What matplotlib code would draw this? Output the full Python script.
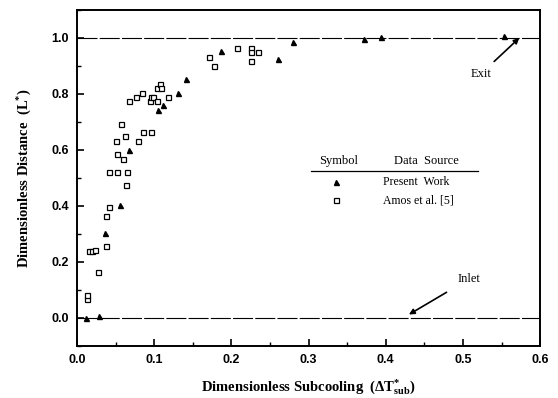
import numpy as np
import matplotlib
matplotlib.use('Agg')
import matplotlib.pyplot as plt

# present work (filled triangles)
present_x = [0.012, 0.029, 0.036, 0.056, 0.068, 0.105, 0.111, 0.131, 0.141,
             0.187, 0.261, 0.280, 0.372, 0.394, 0.553]
present_y = [0.000, 0.007, 0.304, 0.404, 0.601, 0.743, 0.762, 0.805, 0.854,
             0.954, 0.926, 0.985, 0.996, 1.005, 1.008]

# Amos et al. [5] (open squares)
amos_x = [0.013, 0.013, 0.016, 0.020, 0.023, 0.027, 0.037, 0.038, 0.042,
          0.042, 0.052, 0.065, 0.064, 0.052, 0.059, 0.051, 0.062, 0.079,
          0.086, 0.096, 0.057, 0.067, 0.076, 0.084, 0.094, 0.096, 0.098,
          0.104, 0.103, 0.108, 0.109, 0.118, 0.171, 0.177, 0.207, 0.225,
          0.226, 0.235, 0.225]
amos_y = [0.068, 0.082, 0.238, 0.240, 0.242, 0.163, 0.258, 0.364, 0.395,
          0.522, 0.522, 0.522, 0.475, 0.587, 0.568, 0.632, 0.649, 0.632,
          0.663, 0.663, 0.692, 0.773, 0.788, 0.805, 0.773, 0.788, 0.790,
          0.773, 0.821, 0.836, 0.821, 0.790, 0.932, 0.900, 0.964, 0.964,
          0.951, 0.951, 0.918]

xticks = [0.0, 0.1, 0.2, 0.3, 0.4, 0.5, 0.6]
yticks = [0.0, 0.2, 0.4, 0.6, 0.8, 1.0]

serif = 'Liberation Serif'
sans = 'Liberation Sans'
plt.rcParams['mathtext.fontset'] = 'custom'
plt.rcParams['mathtext.rm'] = 'Liberation Serif:bold'
plt.rcParams['mathtext.it'] = 'Liberation Serif:bold'
plt.rcParams['mathtext.bf'] = 'Liberation Serif:bold'

fig = plt.figure(figsize=(5.58, 3.98), dpi=100)
ax = fig.add_axes([0.138, 0.131, 0.830, 0.844])

# inlet / exit reference lines
ax.axhline(1.0, color='black', lw=0.8, ls=(0, (18, 2)))
ax.axhline(0.0, color='black', lw=0.8, ls=(0, (18, 2)))

ax.plot(amos_x, amos_y, ls='none', marker='s', ms=3.6, mfc='white',
        mec='black', mew=0.9)
ax.plot(present_x, present_y, ls='none', marker='^', ms=3.6, color='black')

ax.set_xlim(0, 0.6)
ax.set_ylim(-0.1, 1.1)
ax.set_xticks(xticks)
ax.set_yticks(yticks)
ax.set_xticks(np.arange(0.05, 0.6, 0.1), minor=True)
ax.set_yticks(np.arange(-0.1, 1.1, 0.2), minor=True)
ax.xaxis.set_major_formatter(matplotlib.ticker.FormatStrFormatter('%.1f'))
ax.yaxis.set_major_formatter(matplotlib.ticker.FormatStrFormatter('%.1f'))
ax.tick_params(which='both', direction='in', top=False, right=False)
ax.tick_params(which='major', length=5, width=1.2, pad=6)
ax.tick_params(which='minor', length=3, width=1.0)
for lab in ax.get_xticklabels() + ax.get_yticklabels():
    lab.set_family(sans)
    lab.set_fontweight('bold')
    lab.set_fontsize(9)
for sp in ax.spines.values():
    sp.set_linewidth(1.4)

ax.set_xlabel(r'Dimensionless Subcooling  ($\Delta$T$^{*}_{\mathrm{sub}}$)',
              family=serif, fontweight='bold', fontsize=10.5, labelpad=8)
ax.set_ylabel(r'Dimensionless Distance  (L$^{*}$)', family=serif,
              fontweight='bold', fontsize=10.5, labelpad=12)

# annotations
ax.annotate('Exit', xy=(0.573, 1.0), xytext=(0.523, 0.871), family=serif,
            fontsize=9, ha='center', va='center',
            arrowprops=dict(arrowstyle='-|>', color='black', lw=1.2,
                            shrinkA=4, shrinkB=0, mutation_scale=8))
ax.annotate('Inlet', xy=(0.43, 0.012), xytext=(0.508, 0.139), family=serif,
            fontsize=9, ha='center', va='center',
            arrowprops=dict(arrowstyle='-|>', color='black', lw=1.2,
                            shrinkA=7, shrinkB=0, mutation_scale=8))

# hand-made legend table
ax.text(0.339, 0.561, 'Symbol', family=serif, fontsize=9, ha='center', va='center')
ax.text(0.452, 0.561, 'Data  Source', family=serif, fontsize=9, ha='center', va='center')
ax.plot([0.303, 0.519], [0.525, 0.525], color='black', lw=0.9)
ax.plot([0.336], [0.486], ls='none', marker='^', ms=3.6, color='black')
ax.text(0.397, 0.486, 'Present  Work', family=serif, fontsize=8.5, va='center')
ax.plot([0.336], [0.421], ls='none', marker='s', ms=3.6, mfc='white',
        mec='black', mew=0.9)
ax.text(0.397, 0.421, 'Amos et al. [5]', family=serif, fontsize=8.5, va='center')

fig.savefig('out.png', dpi=100)
